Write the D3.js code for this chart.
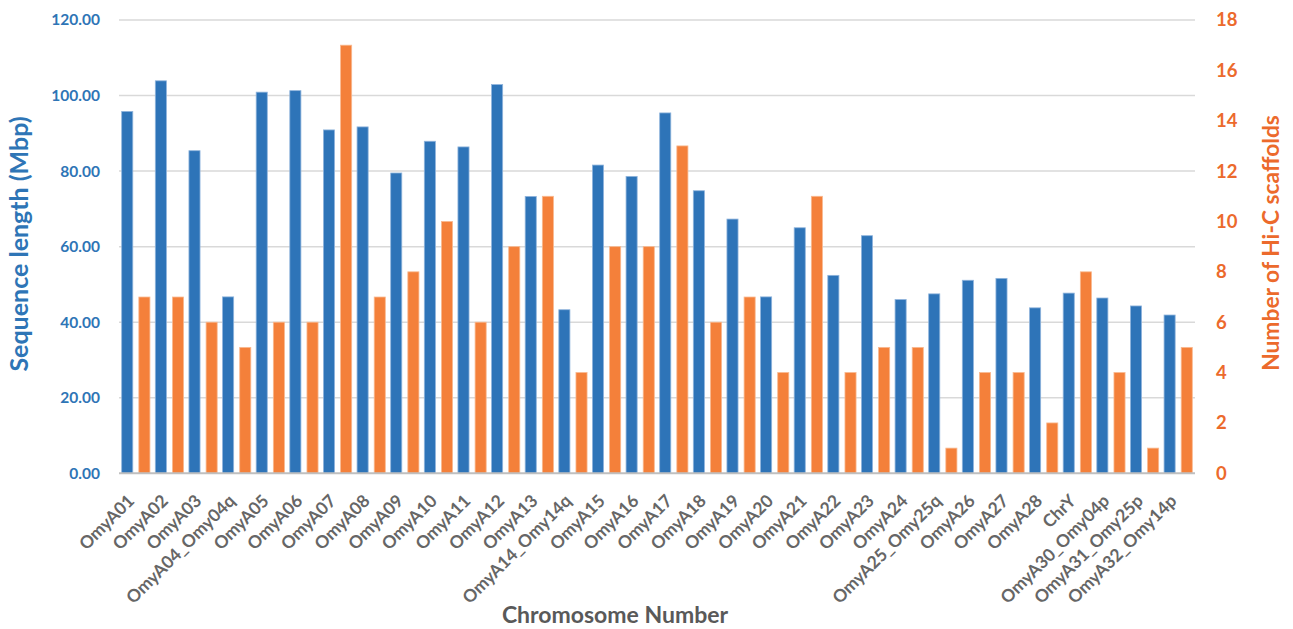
<!DOCTYPE html>
<html><head><meta charset="utf-8">
<script src="https://cdn.jsdelivr.net/npm/d3@7"></script>
<style>body{margin:0;background:#fff;} svg{display:block;}</style>
</head><body>
<svg id="c" width="1293" height="629"></svg>
<script>
const categories = ["OmyA01","OmyA02","OmyA03","OmyA04_Omy04q","OmyA05","OmyA06","OmyA07","OmyA08","OmyA09","OmyA10","OmyA11","OmyA12","OmyA13","OmyA14_Omy14q","OmyA15","OmyA16","OmyA17","OmyA18","OmyA19","OmyA20","OmyA21","OmyA22","OmyA23","OmyA24","OmyA25_Omy25q","OmyA26","OmyA27","OmyA28","ChrY","OmyA30_Omy04p","OmyA31_Omy25p","OmyA32_Omy14p"];
const seqLength = [95.8,103.9,85.4,46.7,100.9,101.3,90.9,91.7,79.5,87.9,86.4,102.9,73.3,43.3,81.6,78.6,95.4,74.8,67.3,46.7,65.0,52.4,62.9,46.0,47.5,51.1,51.6,43.8,47.7,46.4,44.3,41.9];
const scaffolds = [7,7,6,5,6,6,17,7,8,10,6,9,11,4,9,9,13,6,7,4,11,4,5,5,1,4,4,2,8,4,1,5];
const leftTicks = [0,20,40,60,80,100,120];
const rightTicks = [0,2,4,6,8,10,12,14,16,18];

const svg = d3.select("#c");
const m = {l:119, r:1195, t:20, b:473.3};
const blue = "#2E74B8", orange = "#F4803A";
const blueText = "#2E75B6", orangeText = "#EC6A2C";
const font = "Lato, 'Open Sans', sans-serif";

const x = d3.scaleBand().domain(categories).range([m.l, m.r]).paddingInner(0).paddingOuter(0);
const yL = d3.scaleLinear().domain([0,120]).range([m.b, m.t]);
const yR = d3.scaleLinear().domain([0,18]).range([m.b, m.t]);
const step = x.bandwidth();
const bw = step*0.33, gap = step*0.18, outer = (step - 2*bw - gap)/2;

// gridlines
svg.append("g").selectAll("line").data(leftTicks.filter(d=>d>0)).join("line")
  .attr("x1", m.l).attr("x2", m.r).attr("y1", d=>yL(d)).attr("y2", d=>yL(d))
  .attr("stroke", "#D9D9D9").attr("stroke-width", 1.5);

// bars
svg.append("g").selectAll("rect").data(categories).join("rect")
  .attr("x", d=>x(d)+outer).attr("width", bw)
  .attr("y", (d,i)=>yL(seqLength[i])).attr("height", (d,i)=>yL(0)-yL(seqLength[i]))
  .attr("fill", blue).attr("stroke", "#8FB4DC").attr("stroke-width", 0.8);
svg.append("g").selectAll("rect").data(categories).join("rect")
  .attr("x", d=>x(d)+outer+bw+gap).attr("width", bw)
  .attr("y", (d,i)=>yR(scaffolds[i])).attr("height", (d,i)=>yR(0)-yR(scaffolds[i]))
  .attr("fill", orange).attr("stroke", "#F9B990").attr("stroke-width", 0.8);

// bottom axis line
svg.append("line").attr("x1", m.l).attr("x2", m.r).attr("y1", m.b).attr("y2", m.b)
  .attr("stroke", "#BFBFBF").attr("stroke-width", 2);

// left axis
const gl = svg.append("g").attr("transform", `translate(100,0)`)
  .call(d3.axisLeft(yL).tickValues(leftTicks).tickSize(0).tickPadding(0).tickFormat(d3.format(".2f")));
gl.select(".domain").remove();
gl.selectAll("text").attr("fill", blueText).attr("font-family", font).attr("font-size", 15.5).attr("font-weight", "bold");

// right axis
const gr = svg.append("g").attr("transform", `translate(1216,0)`)
  .call(d3.axisRight(yR).tickValues(rightTicks).tickSize(0).tickPadding(0).tickFormat(d3.format("d")));
gr.select(".domain").remove();
gr.selectAll("text").attr("fill", orangeText).attr("font-family", font).attr("font-size", 18.5).attr("font-weight", "bold");

// x labels
svg.append("g").selectAll("text").data(categories).join("text")
  .attr("transform", d=>`translate(${x(d)+step/2-9},${m.b+20}) rotate(-45)`)
  .attr("text-anchor", "end").attr("dy", "0.7em")
  .attr("fill", "#666").attr("font-family", font).attr("font-size", 17.5).attr("font-weight", "bold")
  .text(d=>d);

// titles
svg.append("text").attr("transform", `translate(28,244) rotate(-90)`)
  .attr("text-anchor","middle").attr("fill", blueText).attr("font-family", font)
  .attr("font-size", 25).attr("font-weight","bold").text("Sequence length (Mbp)");
svg.append("text").attr("transform", `translate(1279,243) rotate(-90)`)
  .attr("text-anchor","middle").attr("fill", orangeText).attr("font-family", font)
  .attr("font-size", 22.8).attr("font-weight","bold").text("Number of Hi-C scaffolds");
svg.append("text").attr("x", 615).attr("y", 623)
  .attr("text-anchor","middle").attr("fill", "#595959").attr("font-family", font)
  .attr("font-size", 23).attr("font-weight","bold").text("Chromosome Number");
</script>
</body></html>
